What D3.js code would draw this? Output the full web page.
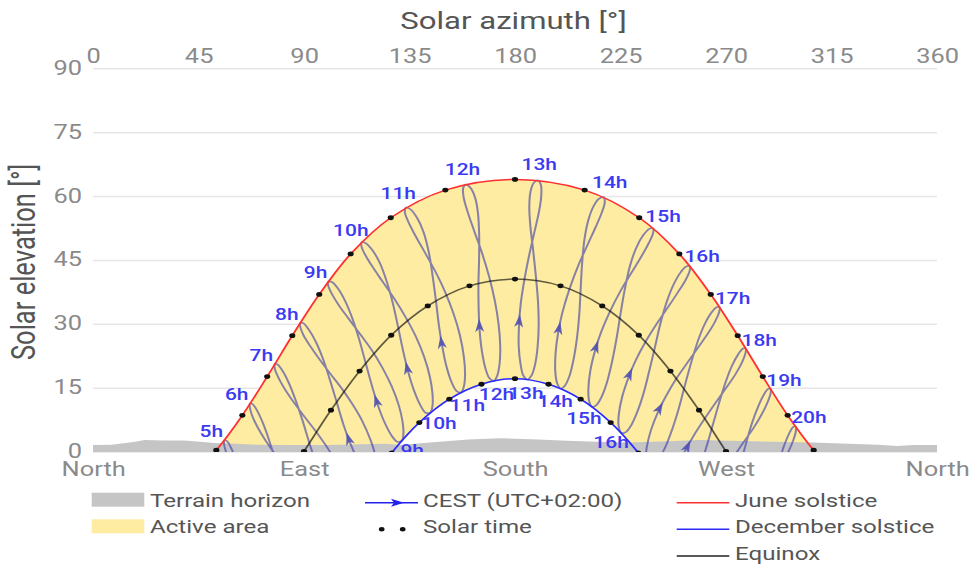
<!DOCTYPE html>
<html>
<head>
<meta charset="utf-8">
<script src="https://cdn.jsdelivr.net/npm/d3@7"></script>
<style>
body { margin: 0; background: #fff; }
svg { display: block; font-family: Roboto, sans-serif; }
</style>
</head>
<body>
<div id="chart"></div>
<script>
// sun positions [azimuth, elevation] in degrees
// analemma loops: one point per sample date (6th and 21st of each month, Jan 6 .. Dec 21)
var loop5 = [[85.8,-33.9],[82.7,-33.0],[78.7,-30.5],[74.9,-26.7],[72.0,-22.6],[69.0,-17.3],[66.1,-11.6],[63.7,-6.6],[61.3,-2.4],[59.1,0.6],[57.2,2.4],[56.1,2.7],[55.9,1.8],[56.8,-0.2],[58.9,-3.1],[62.1,-6.5],[66.4,-10.3],[71.1,-14.0],[75.9,-17.7],[80.5,-21.5],[84.5,-25.4],[87.1,-28.7],[88.3,-31.4],[87.9,-33.3]];
var loop6 = [[97.1,-24.2],[94.2,-23.3],[90.5,-20.8],[87.0,-17.1],[84.0,-13.1],[81.0,-7.9],[77.9,-2.3],[75.2,2.5],[72.6,6.5],[70.2,9.4],[68.1,11.1],[67.0,11.3],[66.9,10.4],[67.9,8.4],[70.3,5.6],[73.7,2.5],[78.2,-1.0],[82.9,-4.5],[87.7,-8.1],[92.1,-11.8],[95.9,-15.7],[98.4,-19.0],[99.4,-21.7],[99.0,-23.6]];
var loop7 = [[107.8,-14.7],[105.1,-13.7],[101.7,-11.1],[98.3,-7.3],[95.5,-3.3],[92.4,1.8],[89.3,7.4],[86.4,12.1],[83.6,16.0],[81.0,18.8],[78.8,20.4],[77.6,20.6],[77.5,19.6],[78.7,17.8],[81.3,15.1],[84.9,12.1],[89.6,8.6],[94.4,5.2],[99.1,1.6],[103.4,-2.2],[107.0,-6.1],[109.2,-9.6],[110.1,-12.3],[109.6,-14.1]];
var loop8 = [[118.5,-5.7],[116.0,-4.6],[112.8,-1.8],[109.6,2.1],[106.9,6.2],[104.0,11.5],[100.9,17.1],[98.0,21.9],[95.0,25.8],[92.2,28.5],[89.8,30.1],[88.4,30.2],[88.4,29.3],[89.7,27.4],[92.6,24.8],[96.4,21.8],[101.2,18.3],[106.1,14.8],[110.8,11.0],[115.0,7.0],[118.3,2.8],[120.3,-0.7],[120.9,-3.6],[120.4,-5.3]];
var loop9 = [[129.8,2.3],[127.4,3.7],[124.4,6.8],[121.5,10.9],[119.1,15.2],[116.4,20.6],[113.5,26.4],[110.6,31.3],[107.6,35.3],[104.6,38.2],[101.9,39.8],[100.4,39.9],[100.3,39.0],[101.8,37.1],[104.8,34.4],[108.9,31.3],[113.9,27.6],[118.9,23.8],[123.5,19.6],[127.4,15.3],[130.4,10.9],[132.0,7.1],[132.4,4.2],[131.7,2.5]];
var loop10 = [[141.9,9.1],[139.7,10.8],[137.0,14.2],[134.5,18.6],[132.5,23.1],[130.3,28.8],[127.9,34.8],[125.3,39.9],[122.4,44.2],[119.3,47.2],[116.4,48.9],[114.7,49.2],[114.5,48.2],[116.0,46.3],[119.2,43.4],[123.4,40.0],[128.5,35.9],[133.3,31.6],[137.7,27.0],[141.2,22.3],[143.7,17.5],[144.8,13.6],[144.8,10.7],[143.8,9.1]];
var loop11 = [[155.1,14.2],[153.0,16.2],[150.8,19.9],[149.0,24.6],[147.6,29.4],[146.3,35.3],[144.8,41.5],[143.2,46.9],[141.0,51.5],[138.3,54.8],[135.4,56.9],[133.5,57.3],[133.0,56.3],[134.2,54.3],[137.2,51.0],[141.1,47.2],[145.8,42.5],[150.1,37.6],[153.7,32.5],[156.5,27.3],[158.2,22.2],[158.7,18.2],[158.2,15.3],[157.0,13.9]];
var loop12 = [[169.1,17.2],[167.4,19.5],[165.9,23.5],[164.9,28.5],[164.5,33.4],[164.4,39.3],[164.7,45.7],[164.7,51.2],[164.2,56.0],[163.0,59.6],[160.9,62.0],[159.0,62.7],[157.9,61.9],[158.1,59.7],[159.9,56.1],[162.6,51.8],[166.0,46.5],[169.0,41.0],[171.4,35.4],[173.0,29.9],[173.7,24.6],[173.4,20.5],[172.4,17.8],[171.0,16.6]];
var loop13 = [[183.6,17.8],[182.4,20.4],[181.6,24.6],[181.7,29.6],[182.4,34.5],[184.0,40.3],[186.2,46.5],[188.4,51.8],[190.3,56.5],[191.2,60.1],[191.0,62.7],[189.7,63.7],[188.0,63.1],[186.6,61.0],[186.1,57.3],[186.6,52.7],[187.8,47.0],[188.9,41.2],[189.8,35.3],[190.1,29.6],[189.6,24.3],[188.5,20.3],[187.0,17.8],[185.3,16.9]];
var loop14 = [[198.0,16.0],[197.2,18.7],[197.3,23.0],[198.4,27.9],[200.2,32.6],[203.2,38.1],[207.0,43.7],[210.9,48.5],[214.4,52.7],[217.0,56.1],[218.3,58.6],[217.8,59.7],[215.9,59.4],[213.5,57.6],[211.2,54.2],[209.6,49.7],[208.6,44.0],[208.0,38.1],[207.4,32.1],[206.4,26.5],[204.9,21.4],[203.2,17.7],[201.2,15.4],[199.5,14.8]];
var loop15 = [[211.6,11.9],[211.3,14.7],[212.1,18.9],[214.1,23.6],[216.7,28.0],[220.5,32.9],[225.3,38.0],[229.9,42.2],[234.0,45.9],[237.1,49.0],[238.9,51.3],[238.9,52.4],[237.3,52.3],[234.7,50.8],[231.6,47.7],[229.0,43.5],[226.8,38.0],[225.0,32.3],[223.3,26.5],[221.4,21.1],[219.2,16.2],[216.9,12.8],[214.7,10.9],[212.9,10.5]];
var loop16 = [[224.2,6.0],[224.3,8.8],[225.7,12.8],[228.3,17.2],[231.3,21.2],[235.6,25.7],[240.7,30.2],[245.4,34.0],[249.5,37.4],[252.7,40.2],[254.5,42.4],[254.6,43.5],[253.2,43.5],[250.8,42.2],[247.7,39.3],[244.8,35.3],[242.0,30.0],[239.7,24.5],[237.3,19.0],[234.9,13.8],[232.1,9.2],[229.5,6.1],[227.1,4.5],[225.3,4.4]];
var loop17 = [[235.9,-1.5],[236.3,1.3],[238.1,5.2],[241.0,9.3],[244.4,13.0],[248.8,17.1],[254.0,21.2],[258.6,24.8],[262.5,27.9],[265.4,30.6],[267.1,32.8],[267.2,33.9],[266.0,33.9],[263.9,32.7],[260.9,29.9],[258.1,26.1],[255.2,21.0],[252.5,15.6],[249.9,10.2],[247.1,5.3],[244.0,0.9],[241.1,-1.9],[238.6,-3.3],[236.8,-3.2]];
var loop18 = [[246.9,-10.0],[247.5,-7.3],[249.6,-3.5],[252.8,0.4],[256.3,3.8],[260.9,7.7],[265.9,11.7],[270.3,15.1],[274.1,18.2],[276.8,20.9],[278.3,23.1],[278.4,24.2],[277.3,24.2],[275.3,22.9],[272.6,20.2],[269.9,16.4],[267.0,11.3],[264.3,6.1],[261.5,0.8],[258.6,-4.0],[255.2,-8.2],[252.1,-10.8],[249.4,-12.0],[247.6,-11.8]];
var loop19 = [[257.5,-19.3],[258.4,-16.6],[260.7,-12.9],[264.1,-9.1],[267.7,-5.8],[272.3,-2.0],[277.3,2.0],[281.6,5.4],[285.1,8.6],[287.6,11.4],[289.0,13.6],[289.0,14.7],[288.0,14.7],[286.2,13.4],[283.7,10.5],[281.1,6.7],[278.4,1.6],[275.8,-3.7],[272.9,-8.9],[269.8,-13.7],[266.3,-17.8],[263.0,-20.3],[260.1,-21.4],[258.2,-21.1]];
var loop20 = [[268.4,-28.9],[269.2,-26.4],[272.0,-22.6],[275.5,-18.9],[279.3,-15.5],[283.9,-11.6],[288.9,-7.5],[293.0,-3.8],[296.3,-0.4],[298.6,2.5],[299.8,4.8],[299.7,5.9],[298.7,5.8],[297.0,4.3],[294.8,1.4],[292.5,-2.6],[289.9,-7.8],[287.5,-13.2],[284.7,-18.5],[281.6,-23.4],[277.8,-27.5],[274.3,-30.1],[271.2,-31.1],[269.1,-30.7]];
var loopHours = ["5h","6h","7h","8h","9h","10h","11h","12h","13h","14h","15h","16h","17h","18h","19h","20h"];
var loops = [loop5, loop6, loop7, loop8, loop9, loop10, loop11, loop12, loop13, loop14, loop15, loop16, loop17, loop18, loop19, loop20];
var JUNE_IDX = 11, DEC_IDX = 23;

// day paths at whole solar hours
var juneSolar = [[40.8,-6.8],[52.6,0.3],[63.7,8.5],[74.3,17.6],[85.0,27.2],[96.5,36.9],[109.9,46.4],[127.0,54.9],[150.3,61.4],[180.0,63.9],[209.7,61.4],[233.0,54.9],[250.1,46.4],[263.5,36.9],[275.0,27.2],[285.7,17.6],[296.3,8.5],[307.4,0.3],[319.2,-6.8]];
var equinoxSolar = [[78.5,-9.7],[90.0,0],[101.5,9.7],[113.7,18.9],[127.2,27.3],[142.8,34.2],[160.6,38.9],[180.0,40.5],[199.4,38.9],[217.2,34.2],[232.8,27.3],[246.3,18.9],[258.5,9.7],[270.0,0],[281.5,-9.7]];
var decemberSolar = [[116.3,-8.5],[127.4,-0.3],[139.2,6.8],[152.0,12.3],[165.7,15.8],[180.0,17.1],[194.3,15.8],[208.0,12.3],[220.8,6.8],[232.6,-0.3],[243.7,-8.5]];

// direction arrows (8h .. 18h), position and a point a few days later
var arrowFrom = [[109.0,3.0],[120.9,11.9],[134.0,19.6],[148.6,25.7],[164.8,29.6],[181.8,30.7],[198.8,29.0],[214.6,24.6],[228.9,18.2],[241.7,10.2],[253.6,1.2]];
var arrowTo = [[108.4,4.0],[120.4,12.8],[133.6,20.6],[148.3,26.8],[164.7,30.7],[182.0,31.8],[199.2,30.1],[215.2,25.6],[229.6,19.1],[242.5,11.0],[254.3,2.0]];

// terrain horizon profile
var terrainAz = [0,8,18,22,30,39,52,61,70,82,100,115,125,131,145,160,174,190,202,215,228,245,259,272,290,307,322,335,343,350,360];
var terrainEl = [1.5,1.6,2.3,2.7,2.6,2.6,2.0,1.8,1.6,1.5,1.5,1.7,1.8,1.5,2.2,2.8,3.1,2.8,2.5,2.3,2.1,2.4,2.7,2.5,2.3,2.1,1.8,1.6,1.3,1.5,1.5];

var azTicks = [0,45,90,135,180,225,270,315,360];
var elTicks = [0,15,30,45,60,75,90];
var compassAz = [0,90,180,270,360];
var compassNames = ["North","East","South","West","North"];

// the picture is horizontally stretched, so draw in a narrower box
var K = 1.27;
var W = 974, H = 567, VW = W / K;

var svg = d3.select("#chart").append("svg")
  .attr("width", W)
  .attr("height", H)
  .attr("viewBox", "0 0 " + VW + " " + H)
  .attr("preserveAspectRatio", "none");

var x = d3.scaleLinear().domain([0, 360]).range([93 / K, 937 / K]);
var y = d3.scaleLinear().domain([0, 90]).range([451.5, 68.3]);

var TICK_COLOR = "#8a8a8a", TEXT_COLOR = "#555";

// gridlines
var grid = svg.append("g")
  .attr("transform", "translate(" + x(0) + ",0)")
  .call(d3.axisLeft(y).tickValues(elTicks).tickSize(-(x(360) - x(0))).tickFormat(""));
grid.select(".domain").remove();
grid.selectAll("line").attr("stroke", "#e6e6e6").attr("stroke-width", 1.5);

// tick labels
var topAxis = svg.append("g")
  .attr("transform", "translate(0," + y(90) + ")")
  .call(d3.axisTop(x).tickValues(azTicks).tickSize(0).tickPadding(5));
var leftAxis = svg.append("g")
  .attr("transform", "translate(" + x(0) + ",0)")
  .call(d3.axisLeft(y).tickValues(elTicks).tickSize(0).tickPadding(8.7));
var bottomAxis = svg.append("g")
  .attr("transform", "translate(0," + y(0) + ")")
  .call(d3.axisBottom(x).tickValues(compassAz).tickSize(0).tickPadding(10)
    .tickFormat(function (d, i) { return compassNames[i]; }));
[topAxis, leftAxis, bottomAxis].forEach(function (ax) {
  ax.select(".domain").remove();
  ax.attr("font-family", "Roboto, sans-serif").attr("font-size", 20);
  ax.selectAll("text").attr("fill", TICK_COLOR);
});
leftAxis.selectAll("text").attr("dy", "0.3em");

// axis titles
svg.append("text")
  .text("Solar azimuth [°]")
  .attr("x", 513.5 / K)
  .attr("y", 29.3)
  .attr("text-anchor", "middle")
  .attr("font-size", 24.5)
  .attr("fill", TEXT_COLOR);

svg.append("text")
  .text("Solar elevation [°]")
  .attr("transform", "translate(" + (35 / K) + "," + ((y(0) + y(90)) / 2 + 2) + ") rotate(-90)")
  .attr("text-anchor", "middle")
  .attr("font-size", 25.5)
  .attr("fill", TEXT_COLOR);

// plot clip
svg.append("clipPath").attr("id", "plotClip")
  .append("rect")
  .attr("x", x(0)).attr("y", y(90) - 20)
  .attr("width", x(360) - x(0)).attr("height", y(0) + 0.5 - (y(90) - 20));

var plot = svg.append("g").attr("clip-path", "url(#plotClip)");

var smooth = d3.line()
  .x(function (d) { return x(d[0]); })
  .y(function (d) { return y(d[1]); })
  .curve(d3.curveCatmullRom.alpha(0.5));

// active area between June and December paths
var dJune = smooth(juneSolar);
var dDec = smooth(decemberSolar.slice().reverse());
plot.append("path")
  .attr("d", dJune + "L" + dDec.slice(1) + "Z")
  .attr("fill", "#fdeca2");

// terrain
var terrain = terrainAz.map(function (a, i) { return [a, terrainEl[i]]; });
plot.append("path")
  .datum(terrain)
  .attr("d", d3.area()
    .x(function (d) { return x(d[0]); })
    .y0(y(0) + 1)
    .y1(function (d) { return y(d[1]); }))
  .attr("fill", "#c5c5c5");

// analemmas
var loopLine = d3.line()
  .x(function (d) { return x(d[0]); })
  .y(function (d) { return y(d[1]); })
  .curve(d3.curveCatmullRomClosed.alpha(0.5));

plot.append("g").selectAll("path")
  .data(loops).enter()
  .append("path")
  .attr("d", loopLine)
  .attr("fill", "none")
  .attr("stroke", "#3f3fa6")
  .attr("stroke-opacity", 0.62)
  .attr("stroke-width", 1.6);

// day paths
var paths = [
  {pts: equinoxSolar, color: "#000", op: 0.62},
  {pts: decemberSolar, color: "#2b2bff", op: 1},
  {pts: juneSolar, color: "#ff3030", op: 1}
];
plot.append("g").selectAll("path")
  .data(paths).enter()
  .append("path")
  .attr("d", function (d) { return smooth(d.pts); })
  .attr("fill", "none")
  .attr("stroke", function (d) { return d.color; })
  .attr("stroke-opacity", function (d) { return d.op; })
  .attr("stroke-width", 1.5);

// arrows, built in screen pixels then squeezed back into the box
function dart(p, q, len, half, notch) {
  var px = x(p[0]) * K, py = y(p[1]), qx = x(q[0]) * K, qy = y(q[1]);
  var dx = qx - px, dy = qy - py, L = Math.hypot(dx, dy);
  dx /= L; dy /= L;
  var nx = -dy, ny = dx;
  var pts = [
    [px + dx * len / 2, py + dy * len / 2],
    [px - dx * len / 2 + nx * half, py - dy * len / 2 + ny * half],
    [px - dx * (len / 2 - notch), py - dy * (len / 2 - notch)],
    [px - dx * len / 2 - nx * half, py - dy * len / 2 - ny * half]
  ];
  return "M" + pts.map(function (c) { return (c[0] / K) + "," + c[1]; }).join("L") + "Z";
}

plot.append("g").selectAll("path")
  .data(arrowFrom).enter()
  .append("path")
  .attr("d", function (d, i) { return dart(d, arrowTo[i], 13, 4.5, 3.5); })
  .attr("fill", "#5050b4")
  .attr("fill-opacity", 0.9);

// solar time dots
var dots = juneSolar.concat(equinoxSolar, decemberSolar);
plot.append("g").selectAll("circle")
  .data(dots).enter()
  .append("circle")
  .attr("cx", function (d) { return x(d[0]); })
  .attr("cy", function (d) { return y(d[1]); })
  .attr("r", 2.4)
  .attr("fill", "#111");

// hour labels, pushed off the curve along its normal
function labelPos(pts, i, dist, dir) {
  var S = function (p) { return [x(p[0]) * K, y(p[1])]; };
  var a = S(pts[Math.max(0, i - 1)]), b = S(pts[Math.min(pts.length - 1, i + 1)]), p = S(pts[i]);
  var tx = b[0] - a[0], ty = b[1] - a[1], L = Math.hypot(tx, ty);
  tx /= L; ty /= L;
  return [(p[0] + dir * ty * dist) / K, p[1] - dir * tx * dist];
}

var junePts = loops.map(function (l) { return l[JUNE_IDX]; });
var decPts = loops.map(function (l) { return l[DEC_IDX]; });

var labels = plot.append("g")
  .attr("font-size", 16.5)
  .attr("font-weight", 500)
  .attr("fill", "#3a3af2")
  .attr("text-anchor", "middle");

labels.selectAll(".jl")
  .data(loopHours).enter()
  .append("text")
  .text(function (d) { return d; })
  .attr("x", function (d, i) { return labelPos(junePts, i, 16, 1)[0]; })
  .attr("y", function (d, i) { return labelPos(junePts, i, 16, 1)[1]; })
  .attr("dy", "0.35em");

// December labels only where the sun is up on that day
var decShown = d3.range(loops.length).filter(function (i) { return decPts[i][1] > 0; });
labels.selectAll(".dl")
  .data(decShown).enter()
  .append("text")
  .text(function (i) { return loopHours[i]; })
  .attr("x", function (i) { return labelPos(decPts, i, 14, -1)[0]; })
  .attr("y", function (i) { return labelPos(decPts, i, 14, -1)[1]; })
  .attr("dy", "0.35em");

// legend
var legend = svg.append("g").attr("font-size", 19).attr("fill", TEXT_COLOR);

legend.append("rect").attr("x", 91.7 / K).attr("y", 492.7).attr("width", 52.6 / K).attr("height", 14).attr("fill", "#c5c5c5");
legend.append("text").text("Terrain horizon").attr("x", 150 / K).attr("y", 506.7);
legend.append("rect").attr("x", 91.7 / K).attr("y", 519.3).attr("width", 52.6 / K).attr("height", 14).attr("fill", "#fdeca2");
legend.append("text").text("Active area").attr("x", 150 / K).attr("y", 533.3);

legend.append("line").attr("x1", 365 / K).attr("x2", 418 / K).attr("y1", 502.7).attr("y2", 502.7)
  .attr("stroke", "#2222ee").attr("stroke-width", 1.5);
legend.append("path")
  .attr("d", function () {
    var cx = 397, cy = 502.7;
    return "M" + ((cx + 7) / K) + "," + cy + "L" + ((cx - 6) / K) + "," + (cy - 4) +
      "L" + ((cx - 3) / K) + "," + cy + "L" + ((cx - 6) / K) + "," + (cy + 4) + "Z";
  })
  .attr("fill", "#2222ee");
legend.append("text").text("CEST (UTC+02:00)").attr("x", 423 / K).attr("y", 506.7);

legend.selectAll(".ld").data([381.7, 402.7]).enter()
  .append("circle").attr("cx", function (d) { return d / K; }).attr("cy", 529.3).attr("r", 2.2).attr("fill", "#111");
legend.append("text").text("Solar time").attr("x", 423 / K).attr("y", 533.3);

var lineKeys = [
  {name: "June solstice", color: "#ff3030", y: 502.7},
  {name: "December solstice", color: "#2b2bff", y: 529.3},
  {name: "Equinox", color: "#222", y: 556}
];
lineKeys.forEach(function (k) {
  legend.append("line").attr("x1", 676.7 / K).attr("x2", 729.3 / K).attr("y1", k.y).attr("y2", k.y)
    .attr("stroke", k.color).attr("stroke-width", 1.5);
  legend.append("text").text(k.name).attr("x", 735 / K).attr("y", k.y + 4);
});
</script>
</body>
</html>
